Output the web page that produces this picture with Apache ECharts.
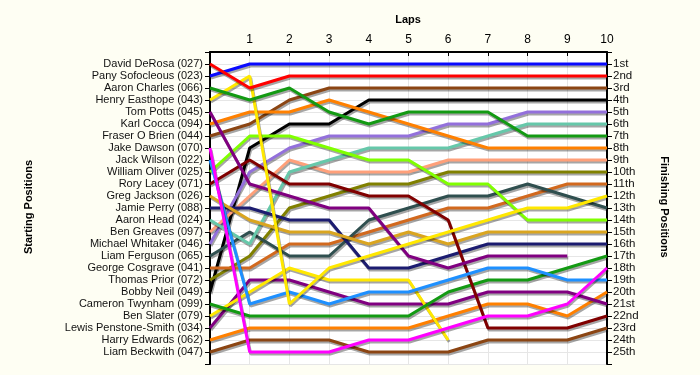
<!DOCTYPE html>
<html>
<head>
<meta charset="utf-8">
<script src="https://cdn.jsdelivr.net/npm/echarts@6/dist/echarts.min.js"></script>
<style>
html,body{margin:0;padding:0;background:#fefef3;}
#chart{width:700px;height:375px;}
</style>
</head>
<body>
<div id="chart"></div>
<script>
const laps = [0,1,2,3,4,5,6,7,8,9,10];
const startLabels = [
  "David DeRosa (027)","Pany Sofocleous (023)","Aaron Charles (066)","Henry Easthope (043)",
  "Tom Potts (045)","Karl Cocca (094)","Fraser O Brien (044)","Jake Dawson (070)",
  "Jack Wilson (022)","William Oliver (025)","Rory Lacey (071)","Greg Jackson (026)",
  "Jamie Perry (088)","Aaron Head (024)","Ben Greaves (097)","Michael Whitaker (046)",
  "Liam Ferguson (065)","George Cosgrave (041)","Thomas Prior (072)","Bobby Neil (049)",
  "Cameron Twynham (099)","Ben Slater (079)","Lewis Penstone-Smith (034)","Harry Edwards (062)",
  "Liam Beckwith (047)"
];
const finishLabels = ["1st","2nd","3rd","4th","5th","6th","7th","8th","9th","10th",
  "11th","12th","13th","14th","15th","16th","17th","18th","19th","20th",
  "21st","22nd","23rd","24th","25th"];

// positions per lap (lap 0 .. last lap completed), one array per driver (by starting position)
const p027 = [1,3,2,2,2,2,2,2,2,2,2];
const p023 = [2,1,1,1,1,1,1,1,1,1,1];
const p066 = [3,4,3,5,6,5,5,5,7,7,7];
const p043 = [4,2,21,18,17,16,15,14,13,13,12];
const p045 = [5,11,12,13,13,17,18,17,17,17];
const p094 = [6,5,5,4,5,6,7,8,8,8,8];
const p044 = [7,6,4,3,3,3,3,3,3,3,3];
const p070 = [8,25,25,25,24,24,23,22,22,21,18];
const p022 = [9,21,20,21,20,20,19,18,18,19,19];
const p025 = [10,7,7,8,9,9,11,11,14,14,14];
const p071 = [11,9,11,11,12,12,14,23,23,23,22];
const p026 = [12,14,15,15,16,15,16,15,15,15,15];
const p088 = [13,13,14,14,18,18,17,16,16,16,16];
const p024 = [14,16,10,9,8,8,8,7,6,6,6];
const p097 = [15,12,9,10,10,10,9,9,9,9,9];
const p046 = [16,10,8,7,7,7,6,6,5,5,5];
const p065 = [17,15,17,17,14,13,12,12,11,12,13];
const p041 = [18,18,16,16,15,14,13,13,12,11,11];
const p072 = [19,17,13,12,11,11,10,10,10,10,10];
const p049 = [20,8,6,6,4,4,4,4,4,4,4];
const p099 = [21,22,22,22,22,22,20,19,19,18,17];
const p079 = [22,20,18,19,19,19,24];
const p034 = [23,19,19,20,21,21,21,20,20,20,21];
const p062 = [24,23,23,23,23,23,22,21,21,22,20];
const p047 = [25,24,24,24,25,25,25,24,24,24,23];

const driverPositions = [p027,p023,p066,p043,p045,p094,p044,p070,p022,p025,p071,p026,p088,
  p024,p097,p046,p065,p041,p072,p049,p099,p079,p034,p062,p047];
const lineColors = ["#ff0000","#0a0aff","#139a13","#ffe800","#800080","#ff8000","#8b4513",
  "#ff00ff","#1e90ff","#80ff00","#800000","#daa520","#1c1c70","#66c8aa","#ffa07a",
  "#9370db","#2f4f4f","#d2691e","#808000","#000000","#139a13","#ffe800","#800080",
  "#ff8000","#8b4513"];

const series = driverPositions.map((arr, i) => ({
  name: startLabels[i],
  type: 'line',
  xAxisIndex: 0,
  yAxisIndex: 0,
  data: arr.map((p, k) => [laps[k], p]),
  symbol: 'none',
  silent: true,
  lineStyle: {
    width: 3,
    color: lineColors[i],
    shadowColor: 'rgba(0,0,0,0.35)',
    shadowBlur: 0,
    shadowOffsetX: 1,
    shadowOffsetY: 2
  },
  z: 30 - i
}));

const chart = echarts.init(document.getElementById('chart'), null, {renderer: 'canvas'});
const fontFam = '"Liberation Sans", Arial, sans-serif';
const yBase = {
  type: 'value', min: 0, max: 26, interval: 1, inverse: true,
  axisLine: {show: true, lineStyle: {color: '#000', width: 2}},
  axisTick: {show: true, length: 5, lineStyle: {color: '#000', width: 1}},
  splitLine: {show: true, lineStyle: {color: '#e6e6e6', width: 1}}
};
chart.setOption({
  animation: false,
  backgroundColor: '#fefef3',
  grid: {left: 210, top: 52, width: 397, height: 312, show: true,
         backgroundColor: '#ffffff', borderWidth: 0},
  xAxis: {
    type: 'value', min: 0, max: 10, interval: 1, position: 'top',
    axisLine: {show: true, onZero: false, lineStyle: {color: '#000', width: 2}},
    axisTick: {show: true, inside: true, length: 4, lineStyle: {color: '#000'}},
    axisLabel: {margin: 6, color: '#000', fontSize: 12, fontFamily: fontFam,
      formatter: v => v === 0 ? '' : String(v)},
    splitLine: {show: true, lineStyle: {color: '#e6e6e6', width: 1}}
  },
  yAxis: [
    Object.assign({}, yBase, {
      position: 'left',
      axisLabel: {margin: 7, color: '#111', fontSize: 11, fontFamily: fontFam,
        formatter: v => (v >= 1 && v <= 25) ? startLabels[v - 1] : ''}
    }),
    Object.assign({}, yBase, {
      position: 'right',
      splitLine: {show: false},
      axisLabel: {margin: 6, color: '#111', fontSize: 11.5, fontFamily: fontFam,
        formatter: v => (v >= 1 && v <= 25) ? finishLabels[v - 1] : ''}
    })
  ],
  graphic: [
    {type: 'text', x: 408, y: 20, style: {text: 'Laps', font: 'bold 11px ' + fontFam,
      fill: '#000', align: 'center', verticalAlign: 'middle'}},
    {type: 'text', x: 29, y: 207, rotation: Math.PI / 2,
      style: {text: 'Starting Positions', font: 'bold 11px ' + fontFam,
      fill: '#000', align: 'center', verticalAlign: 'middle'}},
    {type: 'text', x: 664, y: 207, rotation: -Math.PI / 2,
      style: {text: 'Finishing Positions', font: 'bold 11px ' + fontFam,
      fill: '#000', align: 'center', verticalAlign: 'middle'}}
  ],
  series: series
});
</script>
</body>
</html>
